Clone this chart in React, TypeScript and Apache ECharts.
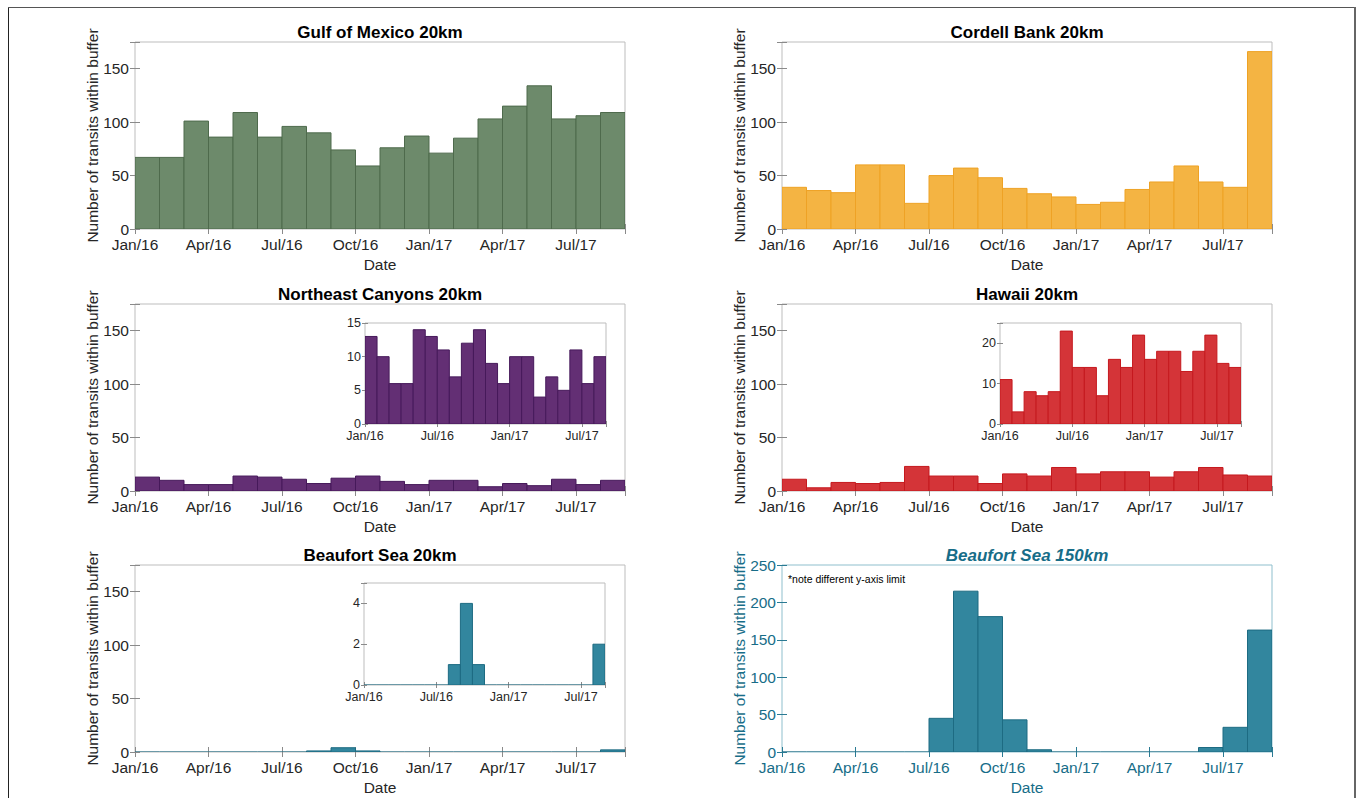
import React, { useEffect, useRef } from 'react';
import * as echarts from 'echarts';

// ---- Data (monthly transit counts, Jan/16 .. Aug/17) ----
const mainTickLabels = ['Jan/16', 'Apr/16', 'Jul/16', 'Oct/16', 'Jan/17', 'Apr/17', 'Jul/17'];
const insetTickLabels = ['Jan/16', 'Jul/16', 'Jan/17', 'Jul/17'];
const monthCount = 20;

const gulfOfMexico = [67, 67, 101, 86, 109, 86, 96, 90, 74, 59, 76, 87, 71, 85, 103, 115, 134, 103, 106, 109];
const cordellBank = [39, 36, 34, 60, 60, 24, 50, 57, 48, 38, 33, 30, 23, 25, 37, 44, 59, 44, 39, 166];
const northeastCanyons = [13, 10, 6, 6, 14, 13, 11, 7, 12, 14, 9, 6, 10, 10, 4, 7, 5, 11, 6, 10];
const hawaii = [11, 3, 8, 7, 8, 23, 14, 14, 7, 16, 14, 22, 16, 18, 18, 13, 18, 22, 15, 14];
const beaufortSea20 = [0, 0, 0, 0, 0, 0, 0, 1, 4, 1, 0, 0, 0, 0, 0, 0, 0, 0, 0, 2];
const beaufortSea150 = [0, 0, 0, 0, 0, 0, 45, 215, 181, 43, 3, 0, 0, 0, 0, 0, 0, 6, 33, 163];

const panelTitles = ['Gulf of Mexico 20km', 'Cordell Bank 20km', 'Northeast Canyons 20km', 'Hawaii 20km', 'Beaufort Sea 20km', 'Beaufort Sea 150km'];
const yAxisTitle = 'Number of transits within buffer';
const xAxisTitle = 'Date';
const noteText = '*note different y-axis limit';

const FONT = '"Liberation Sans", Arial, Helvetica, sans-serif';
const GRAY_FRAME = '#bdbdbd';
const GRAY_TICK = '#8a8a8a';
const TEXT = '#262626';
const TEAL_TEXT = '#176d88';

type Inset = { left: number; top: number; width: number; height: number; ymax: number; yint: number };
type Panel = {
  title: string; data: number[]; fill: string; edge: string;
  frame: string; tick: string; text: string; ymax: number; yint: number;
  left: number; top: number; italic?: boolean; inset?: Inset;
};

const W = 490, H = 187;
const panels: Panel[] = [
  { title: panelTitles[0], data: gulfOfMexico, fill: '#6d8a6b', edge: '#4e6a4c', frame: GRAY_FRAME, tick: GRAY_TICK, text: TEXT, ymax: 175, yint: 50, left: 135, top: 42 },
  { title: panelTitles[1], data: cordellBank, fill: '#f4b443', edge: '#eea225', frame: GRAY_FRAME, tick: GRAY_TICK, text: TEXT, ymax: 175, yint: 50, left: 782, top: 42 },
  { title: panelTitles[2], data: northeastCanyons, fill: '#632f74', edge: '#46195a', frame: GRAY_FRAME, tick: GRAY_TICK, text: TEXT, ymax: 175, yint: 50, left: 135, top: 304,
    inset: { left: 365, top: 323, width: 241, height: 101, ymax: 15, yint: 5 } },
  { title: panelTitles[3], data: hawaii, fill: '#d43438', edge: '#c5191e', frame: GRAY_FRAME, tick: GRAY_TICK, text: TEXT, ymax: 175, yint: 50, left: 782, top: 304,
    inset: { left: 1000, top: 323, width: 241, height: 101, ymax: 25, yint: 10 } },
  { title: panelTitles[4], data: beaufortSea20, fill: '#32869e', edge: '#1d6b82', frame: GRAY_FRAME, tick: GRAY_TICK, text: TEXT, ymax: 175, yint: 50, left: 135, top: 565,
    inset: { left: 364, top: 583, width: 241, height: 102, ymax: 5, yint: 2 } },
  { title: panelTitles[5], data: beaufortSea150, fill: '#32869e', edge: '#1d6b82', frame: '#8fbfcd', tick: '#2a7a93', text: TEAL_TEXT, ymax: 250, yint: 50, left: 782, top: 565, italic: true },
];

function makeRender(fill: string, edge: string) {
  return (_params: any, api: any) => {
    const i = api.value(0);
    const v = api.value(1);
    const p0 = api.coord([i, 0]);
    const p1 = api.coord([i + 1, v]);
    if (!v) {
      return { type: 'line', shape: { x1: p0[0], y1: p0[1], x2: p1[0], y2: p0[1] }, style: { stroke: edge, lineWidth: 1.2 } };
    }
    return {
      type: 'rect',
      shape: { x: p0[0], y: p1[1], width: p1[0] - p0[0], height: p0[1] - p1[1] },
      style: { fill, stroke: edge, lineWidth: 1 },
    };
  };
}

function buildOption() {
  const grid: any[] = [];
  const xAxis: any[] = [];
  const yAxis: any[] = [];
  const series: any[] = [];
  const graphic: any[] = [];

  const addPlot = (
    rect: { left: number; top: number; width: number; height: number },
    p: Panel, ymax: number, yint: number, xint: number, xlabels: string[],
    fontSize: number, tickLen: number, margin: number,
  ) => {
    const gi = grid.length;
    grid.push({ ...rect, show: true, borderColor: p.frame, borderWidth: 1, backgroundColor: 'transparent' });
    const xfmt = (v: number) => {
      const k = Math.round(v / xint);
      return Math.abs(v - k * xint) < 1e-6 ? (xlabels[k] ?? '') : '';
    };
    const yfmt = (v: number) => (Math.abs(v % yint) < 1e-6 ? String(v) : '');
    const tick = { show: true, inside: true, length: tickLen, lineStyle: { color: p.tick, width: 1 } };
    const xBase = { type: 'value', gridIndex: gi, min: 0, max: monthCount, interval: xint, splitLine: { show: false }, axisLine: { show: false } };
    const yBase = { type: 'value', gridIndex: gi, min: 0, max: ymax, interval: yint, splitLine: { show: false }, axisLine: { show: false } };
    const xi = xAxis.length;
    xAxis.push({ ...xBase, position: 'bottom', axisTick: tick, axisLabel: { show: true, margin, color: p.text, fontSize, fontFamily: FONT, formatter: xfmt } });
    xAxis.push({ ...xBase, position: 'top', axisTick: tick, axisLabel: { show: false } });
    const yi = yAxis.length;
    yAxis.push({ ...yBase, position: 'left', axisTick: tick, axisLabel: { show: true, margin: margin - 1, color: p.text, fontSize, fontFamily: FONT, formatter: yfmt } });
    yAxis.push({ ...yBase, position: 'right', axisTick: tick, axisLabel: { show: false } });
    series.push({
      type: 'custom', xAxisIndex: xi, yAxisIndex: yi, silent: true, clip: true,
      encode: { x: 0, y: 1 },
      data: p.data.map((v, i) => [i, v]),
      renderItem: makeRender(p.fill, p.edge),
    });
  };

  panels.forEach((p) => {
    addPlot({ left: p.left, top: p.top, width: W, height: H }, p, p.ymax, p.yint, 3, mainTickLabels, 15.5, 5, 7);
    const cx = p.left + W / 2;
    graphic.push({
      type: 'text', x: cx, y: p.top - 10,
      style: { text: p.title, align: 'center', verticalAlign: 'middle', fill: p.italic ? TEAL_TEXT : '#000',
        font: `${p.italic ? 'italic ' : ''}bold 17px ${FONT}` },
    });
    graphic.push({
      type: 'text', x: p.left - 43, y: p.top + H / 2, rotation: Math.PI / 2,
      style: { text: yAxisTitle, align: 'center', verticalAlign: 'middle', fill: p.text, font: `15.5px ${FONT}` },
    });
    graphic.push({
      type: 'text', x: cx, y: p.top + H + 35,
      style: { text: xAxisTitle, align: 'center', verticalAlign: 'middle', fill: p.text, font: `15.5px ${FONT}` },
    });
    if (p.italic) {
      graphic.push({
        type: 'text', x: p.left + 6, y: p.top + 14,
        style: { text: noteText, align: 'left', verticalAlign: 'middle', fill: '#000', font: `10.5px ${FONT}` },
      });
    }
  });

  panels.forEach((p) => {
    if (p.inset) {
      const r = p.inset;
      addPlot({ left: r.left, top: r.top, width: r.width, height: r.height }, p, r.ymax, r.yint, 6, insetTickLabels, 12.5, 3, 5);
    }
  });

  // outer figure frame
  graphic.push({ type: 'line', shape: { x1: 8.5, y1: 7, x2: 8.5, y2: 800 }, style: { stroke: '#222', lineWidth: 1 } });
  graphic.push({ type: 'line', shape: { x1: 8, y1: 7.5, x2: 1356, y2: 7.5 }, style: { stroke: '#555', lineWidth: 1 } });
  graphic.push({ type: 'line', shape: { x1: 1355, y1: 7, x2: 1355, y2: 800 }, style: { stroke: '#666', lineWidth: 2 } });

  return { animation: false, backgroundColor: '#fff', grid, xAxis, yAxis, series, graphic };
}

export default function App() {
  const ref = useRef<HTMLDivElement>(null);
  useEffect(() => {
    if (!ref.current) return;
    const chart = echarts.init(ref.current, undefined, { renderer: 'svg' });
    chart.setOption(buildOption() as any);
    return () => chart.dispose();
  }, []);
  return <div ref={ref} style={{ position: 'absolute', left: 0, top: 0, width: 1357, height: 798 }} />;
}
